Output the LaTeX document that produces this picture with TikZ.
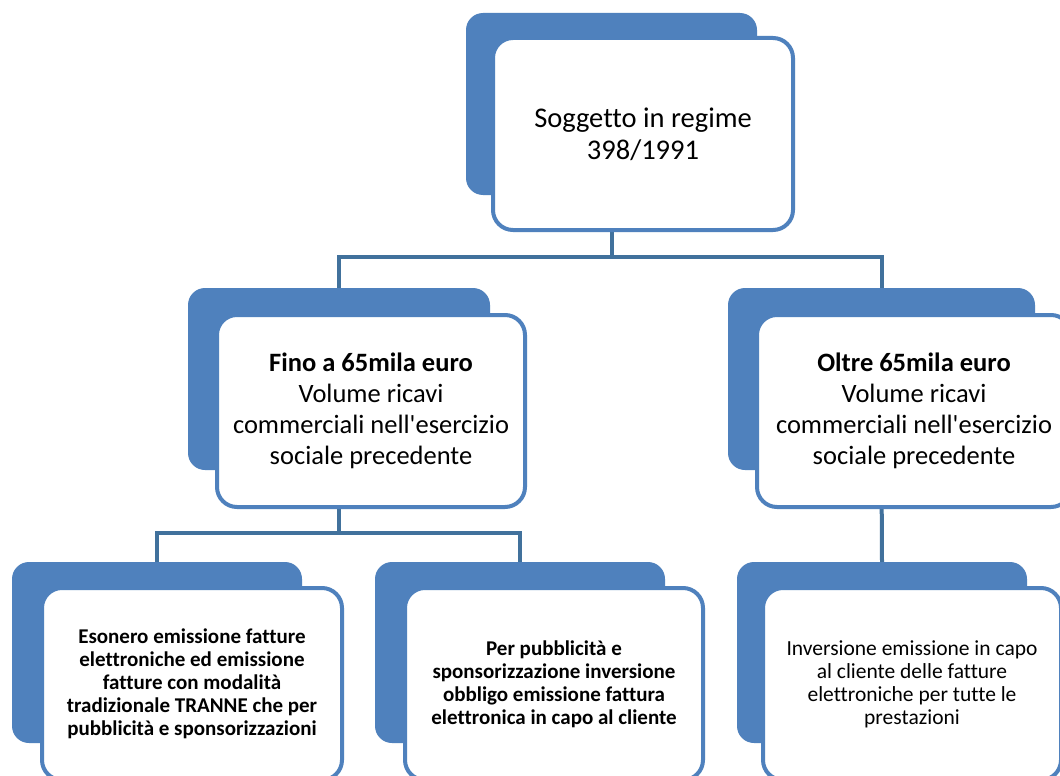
\documentclass[tikz,border=0pt]{standalone}
\usepackage{fontspec}
\setmainfont{Carlito}[Ligatures={TeXOff,NoCommon}]
\definecolor{boxblue}{HTML}{4F81BD}
\definecolor{linkblue}{HTML}{41719C}
\begin{document}
\begin{tikzpicture}[x=1pt,y=-1pt,
  back/.style={fill=boxblue, draw=none, rounded corners=17pt, inner sep=0pt},
  front/.style={fill=white, draw=boxblue, line width=4pt, rounded corners=20pt, inner sep=0pt, align=center, text=black},
  link/.style={draw=linkblue, line width=4pt}]
\path[use as bounding box, clip] (0,0) rectangle (1060,776);
\fill[white] (0,0) rectangle (1060,776);
% back boxes
\node[back, minimum width=291pt, minimum height=182pt] (b0) at (611.5,104) {};
\node[back, minimum width=302pt, minimum height=182pt] (b1) at (339,379) {};
\node[back, minimum width=307pt, minimum height=182pt] (b2) at (881.5,379) {};
\node[back, minimum width=290pt, minimum height=181pt] (b3) at (157,652.5) {};
\node[back, minimum width=290pt, minimum height=181pt] (b4) at (520,652.5) {};
\node[back, minimum width=290pt, minimum height=181pt] (b5) at (882,652.5) {};
% connectors
\coordinate (j0) at (611.5,257);
\coordinate (j1) at (339,533);
\draw[link] (b0.south) -- (j0) -| (b1.north);
\draw[link] (j0) -| (b2.north);
\draw[link] (b1.south) -- (j1) -| (b3.north);
\draw[link] (j1) -| (b4.north);
\draw[link] (b2.south) -- (b5.north);
% front boxes
\node[front, minimum width=300pt, minimum height=192pt, font=\fontsize{28.5}{32}\selectfont] (f0) at (643,134)
  {Soggetto in regime\\398/1991};
\node[front, minimum width=308pt, minimum height=192pt, font=\fontsize{26.5}{31}\selectfont] (f1) at (371,411)
  {\textbf{Fino a 65mila euro}\\Volume ricavi\\commerciali nell'esercizio\\sociale precedente};
\node[front, minimum width=314pt, minimum height=192pt, font=\fontsize{26.5}{31}\selectfont] (f2) at (914,411)
  {\textbf{Oltre 65mila euro}\\Volume ricavi\\commerciali nell'esercizio\\sociale precedente};
\node[front, minimum width=300pt, minimum height=192pt, font=\bfseries\fontsize{21}{23}\selectfont] (f3) at (192,684)
  {Esonero emissione fatture\\elettroniche ed emissione\\fatture con modalità\\tradizionale TRANNE che per\\pubblicità e sponsorizzazioni};
\node[front, minimum width=298pt, minimum height=192pt, font=\bfseries\fontsize{21}{23}\selectfont] (f4) at (554,684)
  {Per pubblicità e\\sponsorizzazione inversione\\obbligo emissione fattura\\elettronica in capo al cliente};
\node[front, minimum width=298pt, minimum height=192pt, font=\fontsize{21.5}{23}\selectfont] (f5) at (912,684)
  {Inversione emissione in capo\\al cliente delle fatture\\elettroniche per tutte le\\prestazioni};
\end{tikzpicture}
\end{document}
